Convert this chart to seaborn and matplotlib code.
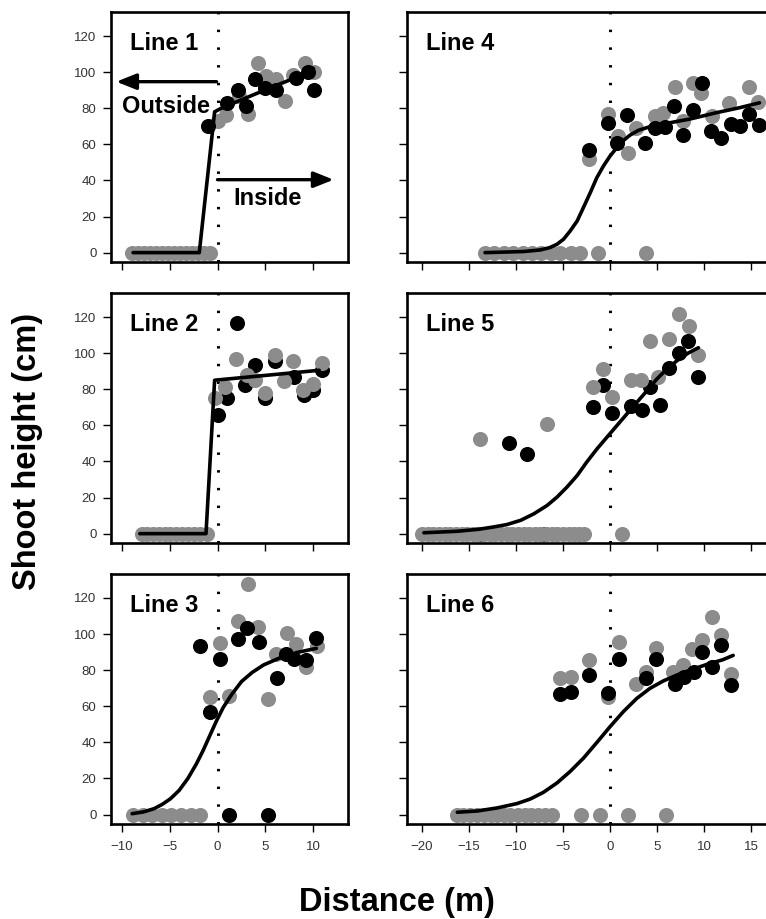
import numpy as np
import pandas as pd
import matplotlib
matplotlib.use("Agg")
import matplotlib.pyplot as plt
import seaborn as sns

#===============================================================
# values
#===============================================================

# Line 1
line1_black_x = [-1.0, 1.0, 2.1, 3.0, 3.9, 4.9, 6.1, 8.2, 9.4, 10.1]
line1_black_y = [70, 83, 90, 81, 96, 91, 90, 97, 100, 90]
line1_gray_x = [-8.9, -8.3, -7.7, -7.0, -6.4, -5.8, -5.2, -4.5, -3.9, -3.3, -2.7, -2.0, -1.4, -0.8,
                0.1, 0.9, 2.2, 3.2, 4.2, 5.1, 6.1, 7.0, 7.9, 9.1, 10.1]
line1_gray_y = [0, 0, 0, 0, 0, 0, 0, 0, 0, 0, 0, 0, 0, 0,
                73, 76, 87, 77, 105, 98, 96, 84, 98.5, 105, 100]
line1_fit_x = [-8.8, -1.9, -0.3, 0.4, 2.2, 4.9, 7.7, 10.0]
line1_fit_y = [0, 0, 78, 80, 84, 90, 96, 102]

# Line 2
line2_black_x = [0.07, 0.95, 2.0, 2.9, 3.95, 5.0, 6.0, 8.0, 9.0, 9.95, 10.9]
line2_black_y = [66, 75, 116.6, 82.5, 93.5, 75, 95.4, 86.7, 77, 79.7, 90.8]
line2_gray_x = [-7.9, -7.3, -6.7, -6.1, -5.5, -4.9, -4.3, -3.7, -3.1, -2.5, -1.8, -1.1,
                -0.3, 0.8, 1.9, 3.1, 3.95, 5.0, 6.0, 6.95, 7.9, 8.9, 9.95, 10.9]
line2_gray_y = [0, 0, 0, 0, 0, 0, 0, 0, 0, 0, 0, 0,
                75, 81.5, 96.9, 88, 85, 77.9, 99, 84.3, 95.4, 79.7, 83, 94.8]
line2_fit_x = [-8.1, -1.2, -0.3, 10.6]
line2_fit_y = [0, 0, 85, 90.5]

# Line 3
line3_black_x = [-1.8, -0.8, 0.25, 1.2, 2.1, 3.05, 4.3, 5.25, 6.25, 7.1, 8.0, 9.2, 10.3]
line3_black_y = [93.4, 56.6, 86, 0, 97, 103.5, 95.8, 0, 75.6, 88.8, 86, 85.5, 97.6]
line3_gray_x = [-8.8, -7.8, -6.8, -5.8, -4.8, -3.8, -2.8, -1.8,
                -0.8, 0.25, 1.2, 2.1, 3.2, 4.2, 5.3, 6.1, 7.2, 8.2, 9.2, 10.4]
line3_gray_y = [0, 0, 0, 0, 0, 0, 0, 0,
                64.9, 95.2, 65.8, 107, 127.8, 104, 64, 88.8, 100.7, 94.3, 81.8, 93.4]
line3_fit_x = [-8.9, -7.7, -6.6, -5.75, -4.9, -4.0, -3.1, -2.2, -1.5, -0.8, -0.1,
               0.6, 1.5, 2.5, 3.6, 4.8, 6.4, 8.2, 10.3]
line3_fit_y = [0.5, 1.5, 3.3, 5.7, 8.8, 13.4, 19.9, 28.1, 35.5, 43.8, 52,
               59.4, 66.7, 73.7, 78.7, 82.9, 86.6, 89.7, 92.1]

# Line 4
line4_black_x = [-2.2, -0.2, 0.7, 1.8, 3.7, 4.8, 5.8, 6.8, 7.8, 8.8, 9.8, 10.7, 11.8, 12.9, 13.8, 14.8, 15.8]
line4_black_y = [57, 72, 60.5, 76, 60.5, 69, 69.7, 81, 65, 79, 93.7, 67.3, 63.7, 71, 70, 76.6, 70.5]
line4_gray_x = [-13.3, -12.3, -11.3, -10.3, -9.3, -8.3, -7.3, -6.3, -5.3, -4.2, -3.2, -1.3, 3.8,
                -2.2, -0.2, 0.8, 1.9, 2.8, 4.8, 5.65, 6.9, 7.8, 8.8, 9.7, 10.8, 12.7, 14.8, 15.7]
line4_gray_y = [0, 0, 0, 0, 0, 0, 0, 0, 0, 0, 0, 0, 0,
                52, 76.6, 64.6, 55, 69, 75.6, 77.5, 92, 73, 94, 88.6, 75.6, 82.7, 92, 83.6]
line4_fit_x = [-13.3, -9.2, -7.4, -6.4, -5.65, -4.95, -4.24, -3.5, -2.83, -2.12, -1.41, -0.7,
               0.0, 0.7, 1.4, 2.1, 3.0, 4.2, 6.0, 8.5, 11.3, 13.8, 15.9]
line4_fit_y = [0, 0.6, 1.5, 2.8, 4.6, 7.4, 12, 17.5, 25, 33, 41.5, 48,
               53.5, 58, 62, 65, 67.7, 69.7, 71.6, 74, 77.5, 80.3, 83]

# Line 5
line5_black_x = [-13.9, -10.8, -8.8, -6.9, -1.8, -0.8, 0.25, 2.2, 3.35, 4.2, 5.3, 6.25, 7.35, 8.3, 9.4]
line5_black_y = [0, 50, 44, 0, 70.4, 82.2, 66.7, 70.8, 68.6, 81.4, 71, 92, 100, 107, 87]
line5_gray_x = [-20.0, -19.4, -18.8, -18.2, -17.6, -17.0, -16.4, -15.8, -15.2, -14.6, -14.0, -13.4,
                -12.8, -12.2, -11.6, -11.0, -10.4, -9.8, -9.2, -8.6, -8.0, -7.4, -6.8, -6.2,
                -5.6, -5.0, -4.4, -3.8, -3.3, -2.8, 1.3,
                -13.8, -6.7, -1.8, -0.8, 0.25, 2.2, 3.25, 4.2, 5.1, 6.3, 7.3, 8.4, 9.4]
line5_gray_y = [0, 0, 0, 0, 0, 0, 0, 0, 0, 0, 0, 0,
                0, 0, 0, 0, 0, 0, 0, 0, 0, 0, 0, 0,
                0, 0, 0, 0, 0, 0, 0,
                52.4, 60.7, 81.4, 91, 75.7, 85, 85, 107, 87, 108, 121.7, 115, 99]
line5_fit_x = [-19.8, -16.3, -14.0, -12.4, -11.0, -9.5, -8.1, -6.7, -5.65, -4.6, -3.5, -2.5,
               -1.4, -0.35, 0.7, 1.77, 2.83, 3.9, 4.95, 6.0, 7.07, 8.3, 9.4]
line5_fit_y = [0.5, 1.3, 2.4, 3.7, 5.0, 7.4, 11, 15.6, 20.2, 25.7, 32.2, 39.5,
               46.9, 53.3, 59.7, 66.2, 72.6, 79, 85.5, 91, 95.6, 100, 103]

# Line 6
line6_black_x = [-5.3, -4.2, -2.2, -0.2, 0.9, 3.8, 4.85, 6.9, 7.85, 8.9, 9.8, 10.8, 11.8, 12.9]
line6_black_y = [66.7, 68, 77.2, 67.5, 86.4, 75.4, 86, 72.6, 76.3, 79, 90, 81.8, 93.75, 71.7]
line6_gray_x = [-16.3, -15.6, -14.9, -14.2, -13.4, -12.7, -12.0, -11.3, -10.6, -9.8, -9.1, -8.4,
                -7.7, -6.9, -6.2, -3.1, -1.1, 1.9, 5.9,
                -5.3, -4.2, -2.2, -0.2, 0.9, 2.8, 3.8, 4.85, 6.7, 7.8, 8.75, 9.8, 10.8, 11.8, 12.9]
line6_gray_y = [0, 0, 0, 0, 0, 0, 0, 0, 0, 0, 0, 0,
                0, 0, 0, 0, 0, 0, 0,
                75.4, 76.3, 85.5, 65.3, 95.6, 72.6, 79, 92.5, 79, 82.7, 91.9, 96.9, 109.4, 99.3, 78.1]
line6_fit_x = [-16.25, -14.1, -12.0, -9.9, -8.5, -7.1, -5.65, -4.24, -2.83, -1.41, 0.0,
               1.41, 2.83, 4.24, 5.65, 7.07, 8.5, 10.25, 12.0, 13.1]
line6_fit_y = [1.3, 2.0, 3.7, 6.1, 8.6, 12.3, 17.5, 23.9, 31.25, 39.9, 48.7,
               57, 64.3, 69.9, 74, 77.2, 80, 83.1, 85.8, 88.2]

panel_names = ["Line 1", "Line 2", "Line 3", "Line 4", "Line 5", "Line 6"]
y_ticks = [0, 20, 40, 60, 80, 100, 120]
left_x_ticks = [-10, -5, 0, 5, 10]
right_x_ticks = [-20, -15, -10, -5, 0, 5, 10, 15]

#===============================================================
# figure
#===============================================================

sns.set_style("ticks")
plt.rcParams["font.family"] = ["Liberation Sans", "DejaVu Sans"]
plt.rcParams["text.color"] = "black"

W, H = 766, 919
fig = plt.figure(figsize=(W / 100, H / 100), dpi=100)

left_xlim = (-11.1, 13.6)
right_xlim = (-21.6, 19.0)
ylim = (-5.2, 133.3)
px_per_m = 9.4

row_bottoms = [0.7149, 0.4091, 0.1034]
ax_h = 250 / H
left_pos = (111 / W, 237 / W)
right_pos = (407 / W, (right_xlim[1] - right_xlim[0]) * px_per_m / W)

panels = [
    (line1_black_x, line1_black_y, line1_gray_x, line1_gray_y, line1_fit_x, line1_fit_y),
    (line2_black_x, line2_black_y, line2_gray_x, line2_gray_y, line2_fit_x, line2_fit_y),
    (line3_black_x, line3_black_y, line3_gray_x, line3_gray_y, line3_fit_x, line3_fit_y),
    (line4_black_x, line4_black_y, line4_gray_x, line4_gray_y, line4_fit_x, line4_fit_y),
    (line5_black_x, line5_black_y, line5_gray_x, line5_gray_y, line5_fit_x, line5_fit_y),
    (line6_black_x, line6_black_y, line6_gray_x, line6_gray_y, line6_fit_x, line6_fit_y),
]
gray_on_top = [False, True, False, False, True, False]

gray = "#8c8c8c"
dot_size = 118

for i, (bx, by, gx, gy, fx, fy) in enumerate(panels):
    col = i // 3
    row = i % 3
    if col == 0:
        ax = fig.add_axes([left_pos[0], row_bottoms[row], left_pos[1], ax_h])
    else:
        ax = fig.add_axes([right_pos[0], row_bottoms[row], right_pos[1], ax_h])

    # dotted boundary line
    ax.axvline(0, color="black", lw=2.2, ls=(0, (0.8, 5.0)), zorder=1)

    z_black, z_gray = (2, 3) if gray_on_top[i] else (3, 2)
    sns.scatterplot(x=gx, y=gy, color=gray, s=dot_size, linewidth=0, ax=ax, zorder=z_gray)
    sns.scatterplot(x=bx, y=by, color="black", s=dot_size, linewidth=0, ax=ax, zorder=z_black)
    sns.lineplot(x=fx, y=fy, color="black", lw=2.6, ax=ax, estimator=None, sort=False, zorder=4)

    ax.set_ylim(ylim)
    ax.set_yticks(y_ticks)
    if col == 0:
        ax.set_xlim(left_xlim)
        ax.set_xticks(left_x_ticks)
        ax.set_yticklabels([str(t) for t in y_ticks])
    else:
        ax.set_xlim(right_xlim)
        ax.set_xticks(right_x_ticks)
        ax.set_yticklabels([])
    if row < 2:
        ax.set_xticklabels([])

    ax.set_xlabel("")
    ax.set_ylabel("")
    for sp in ax.spines.values():
        sp.set_linewidth(1.9)
        sp.set_color("black")
    ax.tick_params(axis="both", direction="out", length=5.5, width=1.0, color="black",
                   labelsize=9.5, labelcolor="#333333")
    ax.tick_params(axis="x", pad=7)
    ax.tick_params(axis="y", pad=5)

    ax.annotate(panel_names[i], xy=(0, 0.848), xycoords="axes fraction",
                xytext=(14, 0), textcoords="offset points",
                fontsize=17, fontweight="bold", va="baseline", ha="left")

    if i == 0:
        ax.annotate("", xy=(-10.55, 94.7), xytext=(-0.1, 94.7),
                    arrowprops=dict(arrowstyle="-|>,head_length=0.8,head_width=0.32",
                                    lw=2.4, color="black", mutation_scale=15,
                                    shrinkA=0, shrinkB=0))
        ax.annotate("", xy=(12.1, 40.4), xytext=(0.0, 40.4),
                    arrowprops=dict(arrowstyle="-|>,head_length=0.8,head_width=0.32",
                                    lw=2.4, color="black", mutation_scale=15,
                                    shrinkA=0, shrinkB=0))
        ax.text(-10.0, 77.4, "Outside", fontsize=17, fontweight="bold", va="baseline", ha="left")
        ax.text(1.7, 26.5, "Inside", fontsize=17, fontweight="bold", va="baseline", ha="left")

fig.text(28 / W, 1 - 451 / H, "Shoot height (cm)", rotation=90, fontsize=23.5,
         fontweight="bold", ha="center", va="center")
fig.text(397 / W, 1 - 903 / H, "Distance (m)", fontsize=23.5,
         fontweight="bold", ha="center", va="center")

fig.savefig("out.png", dpi=100)
